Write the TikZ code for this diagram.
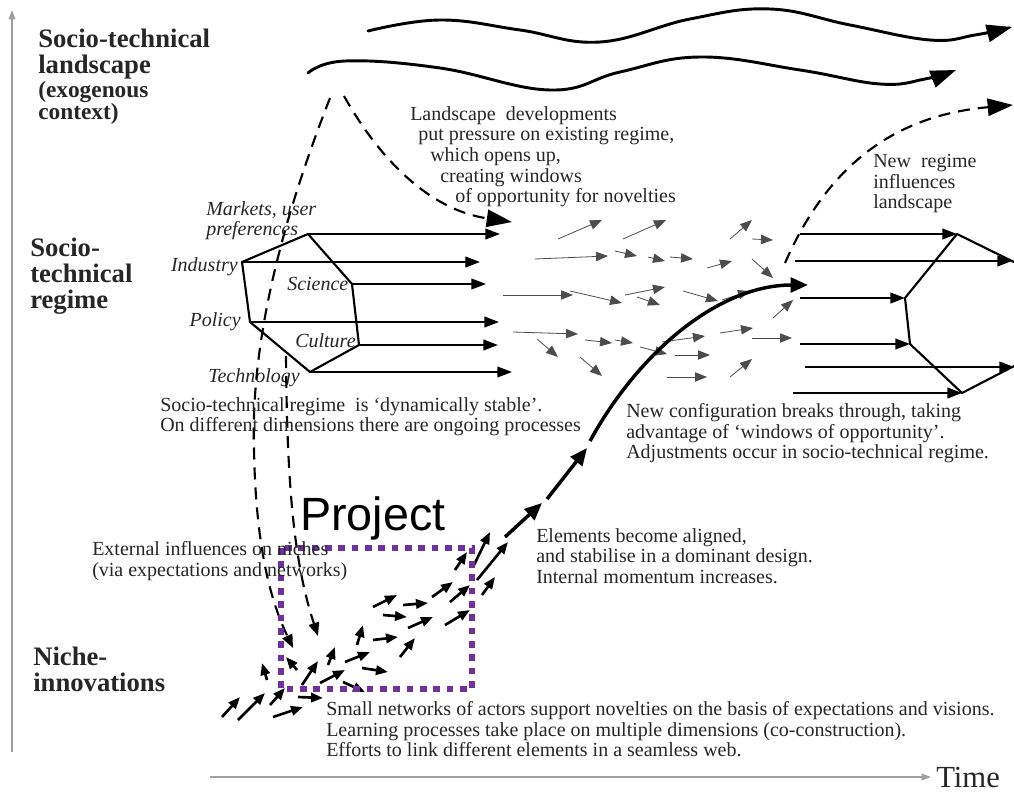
\documentclass[tikz,border=0pt]{standalone}
\usepackage{fontspec}
\setmainfont{Liberation Serif}
\newfontfamily\projfont{Liberation Sans}
\usetikzlibrary{arrows.meta}
\definecolor{projpurple}{HTML}{7030A0}
\definecolor{inkgray}{HTML}{262626}

\begin{document}
\begin{tikzpicture}[x=0.75pt, y=-0.75pt,
  every node/.style = {inner sep=0pt, text=inkgray},
  body/.style = {font=\fontsize{15}{15.5}\selectfont, align=left, anchor=north west},
  dimlabel/.style = {font=\fontsize{15}{15.5}\selectfont\itshape, anchor=base west},
  levellabel/.style = {font=\fontsize{20}{19.5}\selectfont\bfseries, align=left, anchor=north west},
  axisline/.style = {draw=gray!75, line width=0.9pt, -{Triangle[length=7pt,width=5pt]}},
  wave/.style = {line width=2.2pt, line cap=round, -{Triangle[length=19pt,width=13pt]}},
  dimarrow/.style = {line width=1.5pt, -{Triangle[length=11pt,width=8pt]}},
  flowarrow/.style = {draw=black!70, line width=0.6pt, -{Triangle[length=9pt,width=7pt]}},
  nicharrow/.style = {line width=2pt, -{Triangle[length=9pt,width=7pt]}},
  bigarrow/.style = {line width=2.6pt, -{Triangle[length=13pt,width=11pt]}},
  influence/.style = {line width=1.6pt, dash pattern=on 9pt off 6pt, -{Triangle[length=10pt,width=8pt]}},
  projbox/.style = {draw=projpurple, line width=4.5pt, dash pattern=on 5pt off 5pt}]
  \useasboundingbox (0,0) rectangle (1014,792);

  % axes
  \coordinate (origin-v) at (12,752);
  \coordinate (top-v) at (12,10);
  \coordinate (origin-h) at (210,777);
  \coordinate (end-h) at (931,777);
  \draw[axisline] (origin-v) -- (top-v);
  \draw[axisline] (origin-h) -- (end-h);
  \node[anchor=base west, font=\fontsize{23}{23}\selectfont] (time-lbl) at (936,787) {Time};

  % levels
  \node[levellabel] (land-lbl) at (38,29) {Socio-technical\\landscape\\[-2pt]
    {\fontsize{17.5}{17.5}\selectfont(exogenous}\\[-2.5pt]
    {\fontsize{17.5}{17.5}\selectfont context)}};
  \node[levellabel] (reg-lbl) at (30,238) {Socio-\\technical\\regime};
  \node[levellabel] (niche-lbl) at (33,647) {Niche-\\innovations};

  % landscape trends
  \draw[wave] plot[smooth, tension=0.7] coordinates {(368,31) (440,20) (520,30) (600,42)
    (690,19) (770,9) (850,25) (930,40) (975,35) (1012,27)};
  \draw[wave] plot[smooth, tension=0.7] coordinates {(308,73) (345,61) (440,68) (550,90)
    (620,72) (700,57) (800,70) (880,84) (925,79) (956,70)};

  % existing regime
  \coordinate (mkt) at (308,234);
  \coordinate (ind) at (242,262);
  \coordinate (sci) at (352,284);
  \coordinate (pol) at (250,322);
  \coordinate (cul) at (359,345);
  \coordinate (tec) at (310,372);
  \draw[line width=1.6pt, line join=round] (mkt) -- (ind) -- (pol) -- (tec) -- (cul) -- (sci) -- cycle;
  \draw[dimarrow] (mkt) -- ++(192,0);
  \draw[dimarrow] (ind) -- ++(238,0);
  \draw[dimarrow] (sci) -- ++(134,0);
  \draw[dimarrow] (pol) -- ++(249,0);
  \draw[dimarrow] (cul) -- ++(139,0);
  \draw[dimarrow] (tec) -- ++(202,0);
  \node[body, font=\fontsize{15}{15.5}\selectfont\itshape] (mkt-lbl) at (206,201) {Markets, user\\preferences};
  \node[dimlabel, anchor=base east] (ind-lbl) at (238,271) {Industry};
  \node[dimlabel] (sci-lbl) at (287,290) {Science};
  \node[dimlabel, anchor=base east] (pol-lbl) at (241,326) {Policy};
  \node[dimlabel] (cul-lbl) at (295,347) {Culture};
  \node[dimlabel] (tec-lbl) at (208,382) {Technology};

  % new regime
  \coordinate (nr-top) at (957,234);
  \coordinate (nr-tr) at (1018,264);
  \coordinate (nr-l1) at (905,298);
  \coordinate (nr-l2) at (910,344);
  \coordinate (nr-bot) at (962,393);
  \coordinate (nr-br) at (1018,364);
  \draw[line width=1.6pt, line join=round] (nr-tr) -- (nr-top) -- (nr-l1) -- (nr-l2) -- (nr-bot) -- (nr-br);
  \draw[dimarrow] (nr-top) ++(-157,0) -- (nr-top);
  \draw[dimarrow] (795,261) -- ++(217,0);
  \draw[dimarrow] (nr-l1) ++(-105,0) -- (nr-l1);
  \draw[dimarrow] (nr-l2) ++(-110,0) -- (nr-l2);
  \draw[dimarrow] (805,367) -- ++(209,0);
  \draw[dimarrow] (nr-bot) ++(-169,0) -- (nr-bot);

  % windows of opportunity
  \foreach \xa/\ya/\xb/\yb in {558/239/602/220, 623/239/666/220, 535/259/608/256, 615/251/637/256,
      648/257/665/261, 670/257/693/259, 707/268/732/261, 730/239/752/220, 752/239/773/240,
      752/259/773/278, 503/295/573/295, 570/291/622/303, 625/295/665/287, 637/297/660/305,
      683/291/718/301, 722/300/750/291, 773/318/793/300, 513/332/578/334, 537/339/558/357,
      585/340/612/343, 615/340/633/343, 640/347/667/354, 662/342/705/336, 675/355/710/355,
      720/333/753/328, 752/338/792/338, 580/357/602/376, 667/377/707/377, 730/377/752/359}
    \draw[flowarrow] (\xa,\ya) -- (\xb,\yb);

  % niches
  \foreach \xa/\ya/\xb/\yb in {222/717/240/697, 238/720/265/693, 270/705/285/688, 273/717/303/707,
      298/697/323/698, 267/680/262/663, 297/670/286/657, 302/685/318/661, 320/683/345/670,
      328/665/335/647, 345/662/370/652, 343/682/365/692, 362/668/388/672, 357/645/363/625,
      373/640/398/637, 373/607/397/595, 383/615/407/617, 400/657/415/638, 403/605/428/603,
      408/628/433/617, 432/597/453/582, 445/625/470/610, 450/602/470/585, 455/570/467/552,
      473/567/490/532, 477/580/508/542, 482/595/495/577}
    \draw[nicharrow] (\xa,\ya) -- (\xb,\yb);

  % breakthrough
  \draw[bigarrow] (505,537) -- (542,503);
  \draw[bigarrow] (547,499) -- (587,448);
  \draw[bigarrow] (590,441) .. controls (640,350) and (720,285) .. (808,285);

  % dashed influences
  \draw[influence] (330,98) .. controls (290,200) and (250,330) .. (254,450)
    .. controls (256,560) and (275,610) .. (293,648);
  \draw[influence] (286,356) .. controls (287,480) and (293,560) .. (318,636);
  \draw[influence, -{Triangle[length=19pt,width=13pt]}] (344,96) .. controls (380,160) and (430,210) .. (512,222);
  \draw[influence, -{Triangle[length=19pt,width=13pt]}] (785,263) .. controls (830,160) and (900,115) .. (1013,105);

  % project
  \draw[projbox] (281,548) rectangle (472,689);
  \node[anchor=base west, font=\projfont\fontsize{35}{35}\selectfont, text=black] (proj-lbl) at (300,530) {Project};

  % explanations
  \node[body] (pressure-txt) at (410,106) {Landscape\ \ developments\\
    \hspace*{6pt}put pressure on existing regime,\\
    \hspace*{15pt}which opens up,\\
    \hspace*{22.5pt}creating windows\\
    \hspace*{33.75pt}of opportunity for novelties};
  \node[body] (feedback-txt) at (873,154) {New\ \ regime\\influences\\landscape};
  \node[body] (stable-txt) at (160,397) {Socio-technical regime\ \ is ‘dynamically stable’.\\
    On different dimensions there are ongoing processes};
  \node[body] (break-txt) at (626,403) {New configuration breaks through, taking\\
    advantage of ‘windows of opportunity’.\\Adjustments occur in socio-technical regime.};
  \node[body] (align-txt) at (536,528) {Elements become aligned,\\
    and stabilise in a dominant design.\\Internal momentum increases.};
  \node[body] (extern-txt) at (92,541) {External influences on niches\\(via expectations and networks)};
  \node[body] (niche-txt) at (326,701) {Small networks of actors support novelties on the basis of expectations and visions.\\
    Learning processes take place on multiple dimensions (co-construction).\\
    Efforts to link different elements in a seamless web.};
\end{tikzpicture}
\end{document}
